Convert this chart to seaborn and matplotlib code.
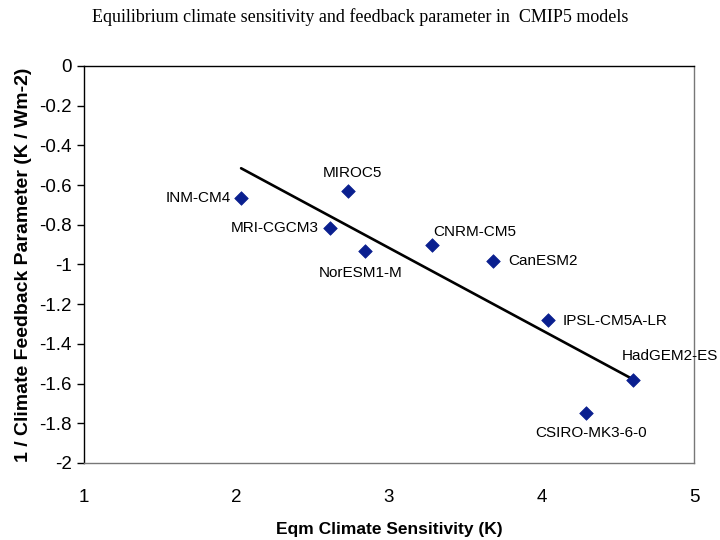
import numpy as np
import pandas as pd
import matplotlib
matplotlib.use("Agg")
import matplotlib.pyplot as plt
import seaborn as sns

# CMIP5 models: equilibrium climate sensitivity vs 1/feedback parameter
models = ["INM-CM4", "MIROC5", "MRI-CGCM3", "NorESM1-M", "CNRM-CM5",
          "CanESM2", "IPSL-CM5A-LR", "HadGEM2-ES", "CSIRO-MK3-6-0"]
ecs = [2.03, 2.73, 2.61, 2.84, 3.28, 3.68, 4.04, 4.60, 4.29]
inv_feedback = [-0.665, -0.63, -0.816, -0.93, -0.90, -0.98, -1.28, -1.58, -1.75]

# label offsets in points and alignment
label_pos = {
    "INM-CM4": (-7, 0, "right"),
    "MIROC5": (3, 13, "center"),
    "MRI-CGCM3": (-8, 0, "right"),
    "NorESM1-M": (-3, -16, "center"),
    "CNRM-CM5": (1, 9, "left"),
    "CanESM2": (11, 0, "left"),
    "IPSL-CM5A-LR": (11, -1, "left"),
    "HadGEM2-ES": (-8, 17, "left"),
    "CSIRO-MK3-6-0": (4, -14, "center"),
}

df = pd.DataFrame({"model": models, "ecs": ecs, "fb": inv_feedback})

sns.set_style("white")
plt.rcParams["font.family"] = ["Liberation Sans", "DejaVu Sans"]
# plain black text like the original
for key in ["text.color", "axes.labelcolor", "xtick.color", "ytick.color"]:
    plt.rcParams[key] = "black"

fig = plt.figure(figsize=(7.2, 5.4), dpi=100)
ax = fig.add_axes([0.1167, 0.1426, 0.8472, 0.7352])

sns.regplot(data=df, x="ecs", y="fb", ax=ax, scatter=False, ci=None,
            truncate=True, line_kws={"color": "black", "lw": 1.9})
sns.scatterplot(data=df, x="ecs", y="fb", ax=ax, marker="D", s=48,
                color="#0a1f8f", edgecolor="#0a1f8f", linewidth=0.5, zorder=3)

for m, x, y in zip(models, ecs, inv_feedback):
    dx, dy, ha = label_pos[m]
    ax.annotate(m, (x, y), xytext=(dx, dy), textcoords="offset points",
                ha=ha, va="center", fontsize=11, color="black")

ax.set_xlim(1, 5)
ax.set_ylim(-2, 0)
ax.set_xticks([1, 2, 3, 4, 5])
ax.set_yticks(np.round(np.arange(-2, 0.01, 0.2), 1))
ax.set_yticklabels(["-2", "-1.8", "-1.6", "-1.4", "-1.2", "-1", "-0.8",
                    "-0.6", "-0.4", "-0.2", "0"])
ax.tick_params(axis="y", left=True, direction="out", length=5, width=1,
               labelsize=13.5, pad=4, color="black", labelcolor="black")
ax.tick_params(axis="x", bottom=False, labelsize=13.5, pad=15, labelcolor="black")

for side in ["left", "top"]:
    ax.spines[side].set_color("black")
    ax.spines[side].set_linewidth(1)
for side in ["right", "bottom"]:
    ax.spines[side].set_color("#777777")
    ax.spines[side].set_linewidth(1)

ax.set_xlabel("Eqm Climate Sensitivity (K)", fontsize=12.5, fontweight="bold",
              labelpad=12, color="black")
ax.set_ylabel("1 / Climate Feedback Parameter (K / Wm-2)", fontsize=14,
              fontweight="bold", labelpad=5, color="black")

fig.text(0.5, 0.968, "Equilibrium climate sensitivity and feedback parameter in  CMIP5 models",
         ha="center", va="center", fontsize=13, color="black",
         family=["Liberation Serif", "DejaVu Serif"])

fig.savefig("out.png", dpi=100)
